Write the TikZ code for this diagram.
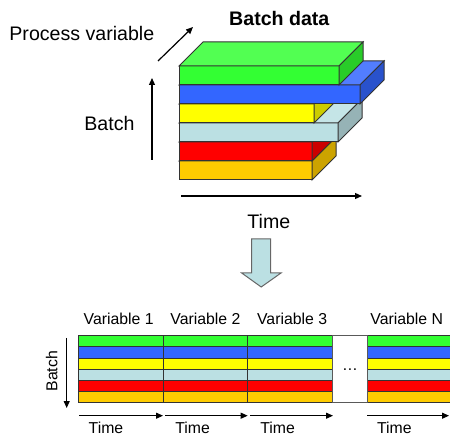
\documentclass[tikz,border=0pt]{standalone}
\usepackage{fontspec}
\setmainfont{Liberation Sans}
\usetikzlibrary{arrows.meta}
\definecolor{cGreen}{HTML}{33FF33}
\definecolor{cBlue}{HTML}{3366FF}
\definecolor{cYellow}{HTML}{FFFF00}
\definecolor{cCyan}{HTML}{BBE0E3}
\definecolor{cRed}{HTML}{FF0000}
\definecolor{cOrange}{HTML}{FFCC00}
\tikzset{
  bigtxt/.style={inner sep=0pt, font=\fontsize{9.8pt}{11pt}\selectfont},
  smalltxt/.style={inner sep=0pt, font=\fontsize{7.9pt}{9pt}\selectfont},
  axis/.style={line width=0.6pt, -{Triangle[length=3.5pt,width=3pt]}},
  edge/.style={draw=black!80, line width=0.5pt}
}
\begin{document}
\begin{tikzpicture}[x=0.5pt, y=-0.5pt]
	\useasboundingbox (0,0) rectangle (450,438);
	% stacked batch slabs, drawn bottom to top
	\foreach \yt/\len/\col in {161/312/cOrange, 142/312/cRed, 123/338/cCyan, 104/314/cYellow, 85/360/cBlue, 66/339/cGreen} {
		\draw[edge, fill=\col] (179,\yt) rectangle (\len,\yt+19);
		\draw[edge, fill=\col!85!white] (179,\yt) -- (203,\yt-24) -- (\len+24,\yt-24) -- (\len,\yt) -- cycle;
		\draw[edge, fill=\col!80!black] (\len,\yt) -- (\len+24,\yt-24) -- (\len+24,\yt-5) -- (\len,\yt+19) -- cycle;
	}
	\node[bigtxt, font=\fontsize{9.8pt}{11pt}\selectfont\bfseries, anchor=base] (title) at (279.3,26) {Batch data};
	\node[bigtxt, anchor=base west] (procvar) at (9,41) {Process variable};
	\node[bigtxt, anchor=base west] (batchtop) at (84,131) {Batch};
	\node[bigtxt, anchor=base west] (timetop) at (247,229) {Time};
	\draw[axis] (158,61) -- (193,27);
	\draw[axis] (152,160) -- (152,78);
	\draw[axis] (181,196) -- (362,196);
	% unfolding arrow
	\draw[draw=gray!80!black, line width=0.5pt, fill=cCyan] (251.7,239) -- (270.7,239) -- (270.7,273) -- (281,273) -- (261.2,287) -- (241.7,273) -- (251.7,273) -- cycle;
	% unfolded matrix
	\foreach \xa/\xb in {78.3/163.3, 163.3/247.7, 247.7/332.7, 367.3/453} {
		\foreach \col [count=\i] in {cGreen,cBlue,cYellow,cCyan,cRed,cOrange}
			\draw[edge, fill=\col] (\xa,{335.7+(\i-1)*11.17}) rectangle (\xb,{335.7+\i*11.17});
	}
	\draw[draw=gray!70!black, line width=0.5pt, fill=white] (332.7,335.7) rectangle (367.3,402.7) node[midway, smalltxt] (dots) {\dots};
	\foreach \x/\lab [count=\i] in {83.3/1, 170/2, 256.7/3, 370/N}
		\node[smalltxt, anchor=base west] (var\i) at (\x,324.3) {Variable \lab};
	\foreach \xa/\xb/\xt [count=\i] in {79/163/88.3, 165/247.7/175, 250/333/260, 367/449/376.7} {
		\draw[axis, line width=0.5pt] (\xa,415.7) -- (\xb,415.7);
		\node[smalltxt, anchor=base west] (time\i) at (\xt,433) {Time};
	}
	\node[smalltxt, rotate=90, anchor=base] (batchbot) at (57.3,371.3) {Batch};
	\draw[axis, line width=0.5pt] (66.7,338) -- (66.7,408);
\end{tikzpicture}
\end{document}
